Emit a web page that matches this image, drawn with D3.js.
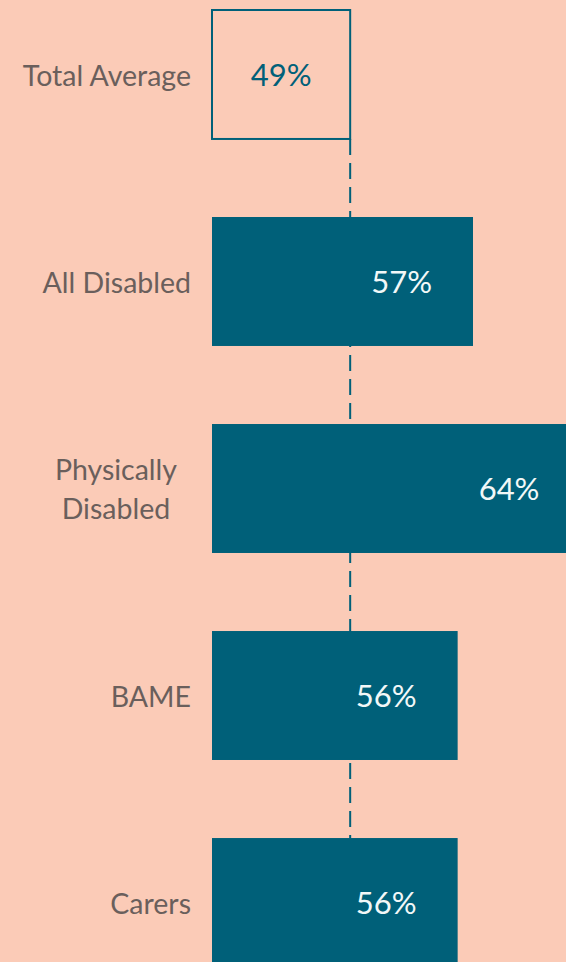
<!DOCTYPE html>
<html>
<head>
<meta charset="utf-8">
<script src="https://cdn.jsdelivr.net/npm/d3@7"></script>
<style>
  html, body { margin: 0; padding: 0; background: #fbcbb7; }
  svg { display: block; }
</style>
</head>
<body>
<div id="chart"></div>
<script>
// chart data
var categories = ['Total Average', 'All Disabled', 'Physically Disabled', 'BAME', 'Carers'];
var labelLines = [['Total Average'], ['All Disabled'], ['Physically', 'Disabled'], ['BAME'], ['Carers']];
var values = [49, 57, 64, 56, 56];
var averageValue = 49;

var width = 566;
var height = 962;
var teal = '#006079';
var bgColor = '#fbcbb7';
var labelColor = '#6a5f5c';

var xScale = d3.scaleLinear()
    .domain([40, 57])
    .range([212, 473]);

var yScale = d3.scaleBand()
    .domain(categories)
    .range([10, 967])
    .paddingInner(0.377);

document.addEventListener('DOMContentLoaded', function () {
    var svg = d3.select('#chart')
        .append('svg')
        .attr('width', width)
        .attr('height', height);

    svg.append('rect')
        .attr('width', width)
        .attr('height', height)
        .attr('fill', bgColor);

    drawDashedLine(svg);
    drawBars(svg);
    drawLabels(svg);
});

function drawDashedLine(svg) {
    svg.append('line')
        .attr('x1', xScale(averageValue))
        .attr('x2', xScale(averageValue))
        .attr('y1', yScale(categories[0]) + yScale.bandwidth())
        .attr('y2', yScale(categories[categories.length - 1]))
        .attr('stroke', teal)
        .attr('stroke-width', 2)
        .attr('stroke-dasharray', '16,8');
}

function drawBars(svg) {
    var bars = svg.append('g').attr('class', 'bars');

    bars.selectAll('rect')
        .data(values)
        .enter()
        .append('rect')
        .attr('x', xScale(40))
        .attr('y', function (d, i) { return yScale(categories[i]); })
        .attr('width', function (d) { return xScale(d) - xScale(40); })
        .attr('height', yScale.bandwidth())
        .attr('fill', function (d, i) { return i == 0 ? 'none' : teal; })
        .attr('stroke', function (d, i) { return i == 0 ? teal : 'none'; })
        .attr('stroke-width', 2);

    bars.selectAll('text')
        .data(values)
        .enter()
        .append('text')
        .attr('x', function (d, i) {
            if (i == 0) return (xScale(40) + xScale(d)) / 2;
            return xScale(d) - 41;
        })
        .attr('y', function (d, i) { return yScale(categories[i]) + yScale.bandwidth() / 2; })
        .attr('dy', '0.38em')
        .attr('text-anchor', function (d, i) { return i == 0 ? 'middle' : 'end'; })
        .attr('fill', function (d, i) { return i == 0 ? teal : '#f2f8f8'; })
        .style('font-family', 'Lato, "Open Sans", sans-serif')
        .style('font-size', '31px')
        .text(function (d) { return d + '%'; });
}

function drawLabels(svg) {
    var labelRight = 191;
    var lineHeight = 39;
    var labels = svg.append('g').attr('class', 'labels');

    categories.forEach(function (cat, i) {
        var lines = labelLines[i];
        var cy = yScale(cat) + yScale.bandwidth() / 2;
        var right = lines.length > 1 ? labelRight - 14 : labelRight;
        var text = labels.append('text')
            .attr('fill', labelColor)
            .style('font-family', 'Lato, "Open Sans", sans-serif')
            .style('font-size', '28.5px')
            .attr('text-anchor', 'middle');

        lines.forEach(function (line, j) {
            text.append('tspan')
                .attr('y', cy + (j - (lines.length - 1) / 2) * lineHeight)
                .attr('dy', '0.4em')
                .text(line);
        });

        // centre the lines inside a block that is right aligned
        var maxW = 0;
        text.selectAll('tspan').each(function () {
            maxW = Math.max(maxW, this.getComputedTextLength());
        });
        text.selectAll('tspan').attr('x', right - maxW / 2);
    });
}
</script>
</body>
</html>
